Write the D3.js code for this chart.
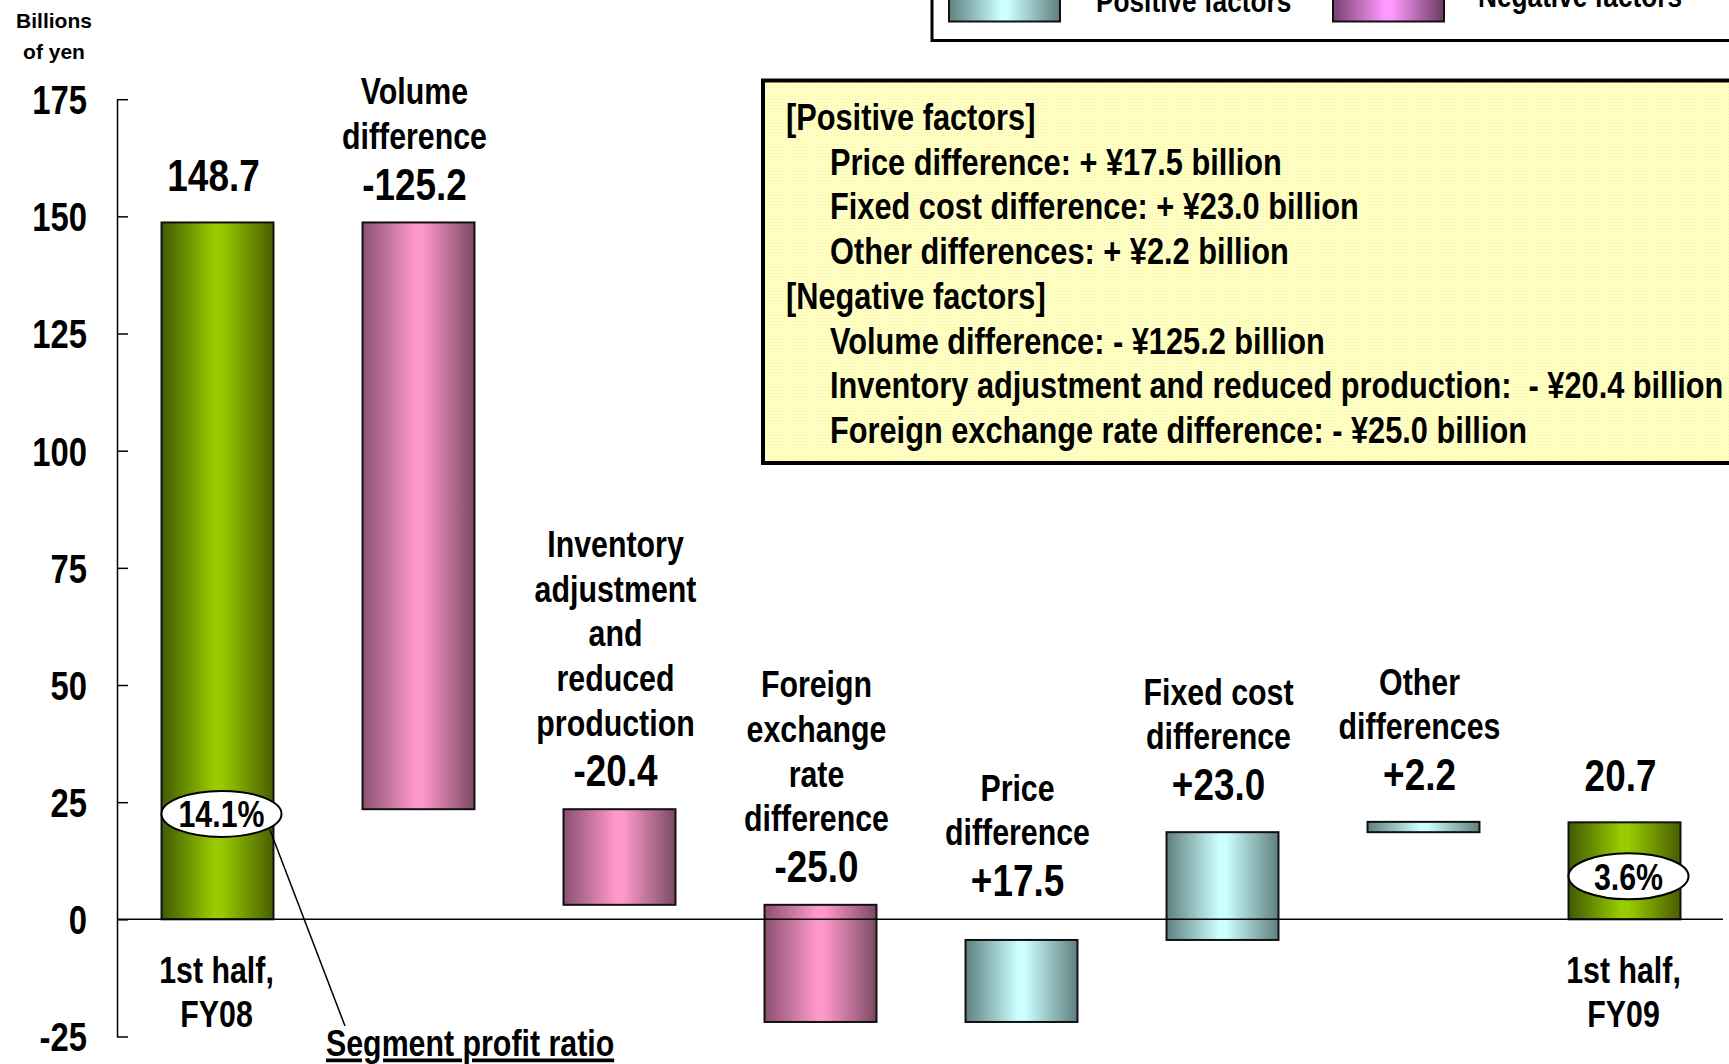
<!DOCTYPE html>
<html>
<head>
<meta charset="utf-8">
<script src="https://cdn.jsdelivr.net/npm/d3@7"></script>
<style>
  html, body { margin: 0; padding: 0; background: #fff; overflow: hidden; }
  svg text { font-family: 'Liberation Sans', Arial, sans-serif; font-weight: bold; fill: #000; }
</style>
</head>
<body>
<svg id="chart" width="1729" height="1064"></svg>
<script>
// ---------------- data ----------------
const categories = ["1st half, FY08", "Volume difference", "Inventory adjustment and reduced production",
  "Foreign exchange rate difference", "Price difference", "Fixed cost difference", "Other differences", "1st half, FY09"];
const kinds = ["total", "neg", "neg", "neg", "pos", "pos", "pos", "total"];
const values = [148.7, -125.2, -20.4, -25.0, 17.5, 23.0, 2.2, 20.7];
const valueLabels = ["148.7", "-125.2", "-20.4", "-25.0", "+17.5", "+23.0", "+2.2", "20.7"];
const topLabels = [[], ["Volume", "difference"], ["Inventory", "adjustment", "and", "reduced", "production"],
  ["Foreign", "exchange", "rate", "difference"], ["Price", "difference"], ["Fixed cost", "difference"],
  ["Other", "differences"], []];
const bottomLabels = [["1st half,", "FY08"], [], [], [], [], [], [], ["1st half,", "FY09"]];
const profitRatios = ["14.1%", "", "", "", "", "", "", "3.6%"];
const ratioAt = [22.5, null, null, null, null, null, null, 9.2];
const yTicks = [-25, 0, 25, 50, 75, 100, 125, 150, 175];
const noteLines = [
  { t: "[Positive factors]", indent: 0 },
  { t: "Price difference: + ¥17.5 billion", indent: 1 },
  { t: "Fixed cost difference: + ¥23.0 billion", indent: 1 },
  { t: "Other differences: + ¥2.2 billion", indent: 1 },
  { t: "[Negative factors]", indent: 0 },
  { t: "Volume difference: - ¥125.2 billion", indent: 1 },
  { t: "Inventory adjustment and reduced production:  - ¥20.4 billion", indent: 1 },
  { t: "Foreign exchange rate difference: - ¥25.0 billion", indent: 1 }
];
const legendItems = [{ k: "pos", t: "Positive factors" }, { k: "neg", t: "Negative factors" }];

// ---------------- waterfall ----------------
let run = 0;
const bars = values.map((v, i) => {
  let lo, hi;
  if (kinds[i] === "total") { lo = 0; hi = v; run = v; }
  else { const s = run; run = run + v; lo = Math.min(s, run); hi = Math.max(s, run); }
  return { i, lo, hi, kind: kinds[i] };
});

const svg = d3.select("#chart");
const y = d3.scaleLinear().domain([-25, 175]).range([1036.5, 99.2]);
const x = d3.scaleBand().domain(categories).range([117, 1725]).paddingInner(0.443).paddingOuter(0.2215);
const SX = 0.82; // narrow face emulation

function txt(parent, px, py, str, size, anchor, extra) {
  const t = parent.append("text")
    .attr("transform", `translate(${px},${py}) scale(${SX},1)`)
    .attr("x", 0).attr("y", 0).attr("dy", "0.36em")
    .attr("font-size", size).attr("text-anchor", anchor || "start")
    .attr("xml:space", "preserve").style("white-space", "pre")
    .text(str);
  if (extra) extra(t);
  return t;
}

// gradients
const defs = svg.append("defs");
const grads = {
  total: ["#405a00", "#99cc00", "#4a5e00"],
  neg: ["#8a5070", "#ff99cc", "#7a4a63"],
  pos: ["#5f8080", "#ccffff", "#5f7f7f"],
  legneg: ["#7a4070", "#ff99ff", "#6a3a60"],
  legpos: ["#5f8080", "#ccffff", "#5f7f7f"]
};
Object.entries(grads).forEach(([k, c]) => {
  const g = defs.append("linearGradient").attr("id", "g-" + k).attr("x1", 0).attr("x2", 1).attr("y1", 0).attr("y2", 0);
  g.append("stop").attr("offset", 0).attr("stop-color", c[0]);
  g.append("stop").attr("offset", 0.47).attr("stop-color", c[1]);
  g.append("stop").attr("offset", 0.53).attr("stop-color", c[1]);
  g.append("stop").attr("offset", 1).attr("stop-color", c[2]);
});
const pat = defs.append("pattern").attr("id", "dots").attr("width", 3).attr("height", 3).attr("patternUnits", "userSpaceOnUse");
pat.append("rect").attr("width", 3).attr("height", 3).attr("fill", "#ffffc2");
pat.append("rect").attr("width", 1).attr("height", 1).attr("fill", "#f4f0b8");

// legend
svg.append("rect").attr("x", 932).attr("y", -20).attr("width", 900).attr("height", 60.5)
  .attr("fill", "#fff").attr("stroke", "#000").attr("stroke-width", 3);
const legX = [949, 1333], legTX = [1096, 1478], legTY = [0.5, -4.5];
legendItems.forEach((d, j) => {
  svg.append("rect").attr("x", legX[j]).attr("y", -20).attr("width", 111).attr("height", 41.5)
    .attr("fill", "url(#g-leg" + d.k + ")").attr("stroke", "#111").attr("stroke-width", 2);
  txt(svg, legTX[j], legTY[j], d.t, 32, "start");
});

// units label
svg.append("text").attr("x", 54).attr("y", 27.5).attr("text-anchor", "middle")
  .attr("font-size", 21).text("Billions");
svg.append("text").attr("x", 54).attr("y", 59).attr("text-anchor", "middle")
  .attr("font-size", 21).text("of yen");

// y axis
const ax = svg.append("g").attr("transform", "translate(117,0)")
  .call(d3.axisLeft(y).tickValues(yTicks).tickSizeInner(-11).tickSizeOuter(0).tickPadding(30).tickFormat(d => String(d)));
ax.selectAll("path, line").attr("stroke", "#000").attr("stroke-width", 1.5);
ax.selectAll("text").attr("font-size", 40).attr("fill", "#000").attr("font-family", null)
  .attr("dy", "0.36em").attr("x", -30 / SX).attr("transform", `scale(${SX},1)`);

// note box
svg.append("rect").attr("x", 763).attr("y", 80.5).attr("width", 1000).attr("height", 382.5)
  .attr("fill", "url(#dots)").attr("stroke", "#000").attr("stroke-width", 4);
noteLines.forEach((d, j) => {
  txt(svg, d.indent ? 830 : 786, 116.5 + j * 44.7, d.t, 37.5, "start");
});

// bars
svg.append("g").selectAll("rect").data(bars).join("rect")
  .attr("x", d => x(categories[d.i])).attr("width", x.bandwidth())
  .attr("y", d => y(d.hi)).attr("height", d => Math.max(1, y(d.lo) - y(d.hi)))
  .attr("fill", d => "url(#g-" + d.kind + ")").attr("stroke", "#111").attr("stroke-width", 2);

// zero line
svg.append("line").attr("x1", 117).attr("x2", 1723).attr("y1", y(0)).attr("y2", y(0))
  .attr("stroke", "#000").attr("stroke-width", 1.5);

// labels
const extraLift = [0, 0, 0, 0, 12, 0, 0, 0];
bars.forEach(d => {
  const cx = x(categories[d.i]) + x.bandwidth() / 2 - 4;
  const gap = d.kind === "neg" ? 39 : 48;
  const vy = y(d.hi) - gap - extraLift[d.i];
  txt(svg, cx, vy, valueLabels[d.i], 45, "middle");
  const lines = topLabels[d.i];
  lines.forEach((t, k) => {
    txt(svg, cx, vy - 48 - (lines.length - 1 - k) * 44.6, t, 37, "middle");
  });
  bottomLabels[d.i].forEach((t, k) => {
    txt(svg, cx + 3, 970 + k * 43.5, t, 37, "middle");
  });
});

// leader line & caption
svg.append("line").attr("x1", 270).attr("y1", 830).attr("x2", 345).attr("y2", 1026)
  .attr("stroke", "#000").attr("stroke-width", 1.5);
txt(svg, 326, 1043, "Segment profit ratio", 37, "start", t => t.attr("text-decoration", "underline"));

// ratio ellipses
bars.forEach(d => {
  if (!profitRatios[d.i]) return;
  const cx = x(categories[d.i]) + x.bandwidth() / 2 + 4;
  const cy = y(ratioAt[d.i]);
  svg.append("ellipse").attr("cx", cx).attr("cy", cy).attr("rx", 60).attr("ry", 23)
    .attr("fill", "#fff").attr("stroke", "#000").attr("stroke-width", 2);
  txt(svg, cx, cy, profitRatios[d.i], 37, "middle");
});
</script>
</body>
</html>
